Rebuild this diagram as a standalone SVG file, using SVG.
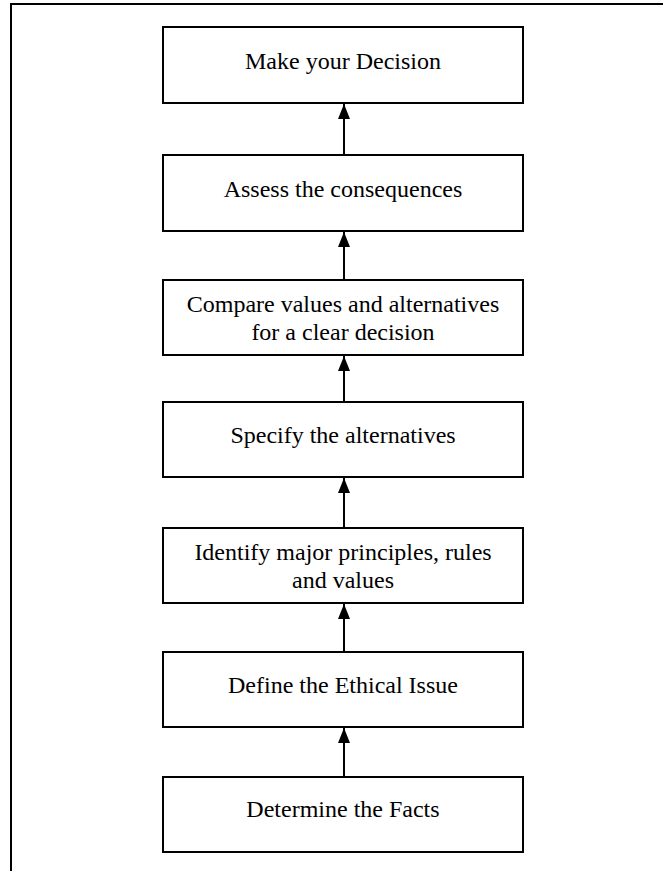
<svg xmlns="http://www.w3.org/2000/svg" width="663" height="871" viewBox="0 0 663 871">
  <style>
    .frame { fill: none; stroke: #000; stroke-width: 2; }
    .box { fill: #fff; stroke: #000; stroke-width: 2; }
    .label { font-family: "Liberation Serif", "Times New Roman", serif; font-size: 24px; fill: #000; text-anchor: middle; }
    .link { stroke: #000; stroke-width: 2; fill: none; marker-end: url(#head); }
  </style>
  <defs>
    <marker id="head" viewBox="0 0 15 12" refX="15" refY="6" markerWidth="15" markerHeight="12" markerUnits="userSpaceOnUse" orient="auto">
      <path d="M0,0 L15,6 L0,12 Z" fill="#000"/>
    </marker>
  </defs>

  <rect width="663" height="871" fill="#fff"/>
  <!-- page frame (top and left edges only) -->
  <path class="frame" d="M11,871 L11,4 L663,4"/>

  <!-- flow arrows, each pointing up to the next step -->
  <g id="connectors">
    <line class="link" x1="344" y1="155" x2="344" y2="104"/>
    <line class="link" x1="344" y1="280" x2="344" y2="232"/>
    <line class="link" x1="344" y1="402" x2="344" y2="356"/>
    <line class="link" x1="344" y1="528" x2="344" y2="478"/>
    <line class="link" x1="344" y1="652" x2="344" y2="604"/>
    <line class="link" x1="344" y1="777" x2="344" y2="728"/>
  </g>

  <g id="make-decision">
    <rect class="box" x="163" y="27" width="360" height="76"/>
    <text class="label" x="343" y="69">Make your Decision</text>
  </g>
  <g id="assess-consequences">
    <rect class="box" x="163" y="155" width="360" height="76"/>
    <text class="label" x="343" y="197">Assess the consequences</text>
  </g>
  <g id="compare-values">
    <rect class="box" x="163" y="280" width="360" height="75"/>
    <text class="label" x="343" y="312">Compare values and alternatives</text>
    <text class="label" x="343" y="340">for a clear decision</text>
  </g>
  <g id="specify-alternatives">
    <rect class="box" x="163" y="402" width="360" height="75"/>
    <text class="label" x="343" y="443">Specify the alternatives</text>
  </g>
  <g id="identify-principles">
    <rect class="box" x="163" y="528" width="360" height="75"/>
    <text class="label" x="343" y="560">Identify major principles, rules</text>
    <text class="label" x="343" y="588">and values</text>
  </g>
  <g id="define-issue">
    <rect class="box" x="163" y="652" width="360" height="75"/>
    <text class="label" x="343" y="693">Define the Ethical Issue</text>
  </g>
  <g id="determine-facts">
    <rect class="box" x="163" y="777" width="360" height="75"/>
    <text class="label" x="343" y="817">Determine the Facts</text>
  </g>
</svg>
